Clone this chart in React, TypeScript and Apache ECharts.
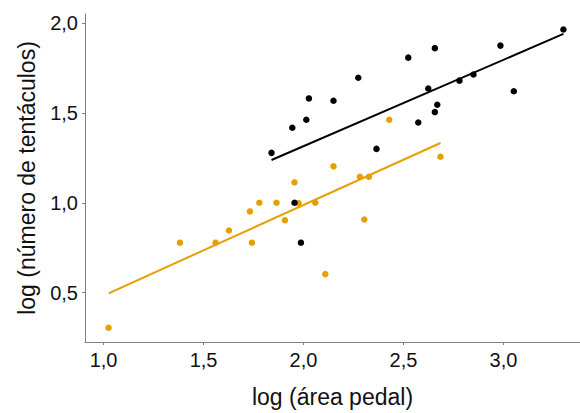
import React, { useEffect, useRef } from "react";
import * as echarts from "echarts";

const xTicks = [1.0, 1.5, 2.0, 2.5, 3.0];
const yTicks = [0.5, 1.0, 1.5, 2.0];

const blackX = [3.3, 2.985, 2.657, 2.524, 2.274, 2.027, 2.15, 2.014, 2.624, 2.78, 2.85, 3.052, 2.669, 2.657, 2.574, 2.365, 1.944, 1.84, 1.955, 1.987];
const blackY = [1.965, 1.875, 1.861, 1.808, 1.696, 1.581, 1.568, 1.462, 1.636, 1.68, 1.714, 1.621, 1.546, 1.505, 1.447, 1.3, 1.418, 1.278, 1.0, 0.778];

const orangeX = [1.025, 1.382, 1.56, 1.627, 1.732, 1.779, 1.742, 1.865, 1.907, 1.955, 1.975, 2.059, 2.109, 2.15, 2.429, 2.282, 2.327, 2.685, 2.304];
const orangeY = [0.304, 0.778, 0.778, 0.846, 0.952, 1.0, 0.778, 1.0, 0.903, 1.114, 0.998, 1.0, 0.603, 1.203, 1.462, 1.145, 1.145, 1.256, 0.907];

const blackFitX = [1.84, 3.3];
const blackFitY = [1.238, 1.94];
const orangeFitX = [1.025, 2.685];
const orangeFitY = [0.496, 1.333];

const BLACK = "#000000";
const ORANGE = "#E69F00";
const AXIS = "#808080";
const TEXT = "#111111";
const FONT = "Liberation Sans, Arial, sans-serif";

const zip = (xs: number[], ys: number[]) => xs.map((x, i) => [x, ys[i]]);
const fmt = (v: number) => v.toFixed(1).replace(".", ",");

export default function App() {
  const ref = useRef<HTMLDivElement>(null);
  useEffect(() => {
    if (!ref.current) return;
    const chart = echarts.init(ref.current, null, { renderer: "svg" });
    chart.setOption({
      animation: false,
      backgroundColor: "#ffffff",
      grid: { left: 85, right: 0, top: 14, bottom: 66.5, containLabel: false },
      xAxis: {
        type: "value",
        min: 0.907,
        max: 3.383,
        name: "log (área pedal)",
        nameLocation: "middle",
        nameGap: 43,
        nameTextStyle: { fontFamily: FONT, fontSize: 23, color: TEXT },
        axisLine: { show: true, onZero: false, lineStyle: { color: AXIS, width: 1 } },
        axisTick: { show: true, length: 3, lineStyle: { color: AXIS }, customValues: xTicks },
        axisLabel: {
          fontFamily: FONT,
          fontSize: 20,
          color: TEXT,
          margin: 8,
          customValues: xTicks,
          formatter: (v: number) => fmt(v),
        },
        splitLine: { show: false },
      },
      yAxis: {
        type: "value",
        min: 0.225,
        max: 2.051,
        name: "log (número de tentáculos)",
        nameLocation: "middle",
        nameGap: 47,
        nameRotate: 90,
        nameTextStyle: { fontFamily: FONT, fontSize: 23, color: TEXT },
        axisLine: { show: true, onZero: false, lineStyle: { color: AXIS, width: 1 } },
        axisTick: { show: true, length: 3, lineStyle: { color: AXIS }, customValues: yTicks },
        axisLabel: {
          fontFamily: FONT,
          fontSize: 20,
          color: TEXT,
          margin: 7,
          customValues: yTicks,
          formatter: (v: number) => fmt(v),
        },
        splitLine: { show: false },
      },
      series: [
        {
          type: "line",
          data: zip(blackFitX, blackFitY),
          showSymbol: false,
          symbol: "none",
          lineStyle: { color: BLACK, width: 2 },
          z: 2,
        },
        {
          type: "line",
          data: zip(orangeFitX, orangeFitY),
          showSymbol: false,
          symbol: "none",
          lineStyle: { color: ORANGE, width: 2 },
          z: 2,
        },
        {
          type: "scatter",
          data: zip(orangeX, orangeY),
          symbolSize: 6.5,
          itemStyle: { color: ORANGE, opacity: 1 },
          z: 3,
        },
        {
          type: "scatter",
          data: zip(blackX, blackY),
          symbolSize: 6.5,
          itemStyle: { color: BLACK, opacity: 1 },
          z: 4,
        },
      ],
    });
    return () => chart.dispose();
  }, []);
  return <div ref={ref} style={{ width: 580, height: 413, position: "absolute", left: 0, top: 0 }} />;
}
